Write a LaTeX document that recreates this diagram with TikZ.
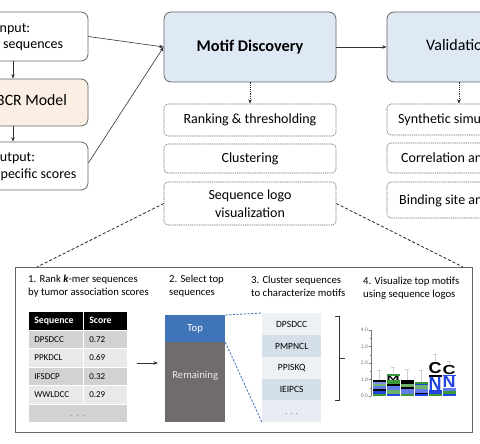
\documentclass[tikz,border=0pt]{standalone}
\usepackage{fontspec}
\setmainfont{Carlito}
\setsansfont{Liberation Sans}
\usepackage{graphicx}
\usetikzlibrary{arrows.meta}
\definecolor{boxblue}{HTML}{DFE8F5}
\definecolor{peach}{HTML}{FBEEE3}
\definecolor{bord}{HTML}{666666}
\definecolor{topblue}{HTML}{3F74B9}
\definecolor{remgray}{HTML}{6F6C6B}
\definecolor{rowdark}{HTML}{D2D2D2}
\definecolor{rowlight}{HTML}{E9E9E9}
\definecolor{lstdark}{HTML}{D5DFEA}
\definecolor{lstlight}{HTML}{EDF1F6}
\definecolor{dashblue}{HTML}{3D6DB0}
\definecolor{lgreen}{HTML}{3A9A3A}
\definecolor{lblue}{HTML}{2244E0}
\definecolor{axisgray}{HTML}{777777}
\newcommand{\logoB}[4]{\fill[#4] ({372.5+14*#1},{396-16.5*#2}) rectangle ({385.5+14*#1},{396-16.5*#3});}
\newcommand{\logoL}[6]{\node[inner sep=0pt, anchor=south west] (#1) at ({372.5+14*#2},{396-16.5*#3}) {\resizebox{13pt}{\dimexpr(#4pt-#3pt)*33/2\relax}{\color{#5}\sffamily\bfseries #6}};}
\begin{document}
\begin{tikzpicture}[x=1pt,y=-1pt,
 mainbox/.style={draw=bord, line width=0.8pt, rounded corners=7pt},
 subbox/.style={draw=bord, line width=0.6pt, dash pattern=on 1.3pt off 0.9pt, rounded corners=4pt, fill=white, minimum width=172pt, align=center, font=\fontsize{14}{18}\selectfont, inner sep=0pt},
 arr/.style={draw=black!80, line width=0.6pt, -{Stealth[length=4.5pt,width=3.5pt]}},
 darr/.style={arr, dash pattern=on 1.3pt off 0.9pt},
 zoomline/.style={draw=black!85, line width=0.8pt, dash pattern=on 3pt off 2pt},
 txt/.style={inner sep=0pt, anchor=west, font=\fontsize{14}{16.5}\selectfont, text height=9.5pt, text depth=2.8pt},
 ptitle/.style={inner sep=0pt, anchor=west, align=left, font=\fontsize{10.7}{13}\selectfont},
 cell/.style={minimum height=18.5pt, inner ysep=0pt, draw=white, line width=0.7pt, font=\fontsize{9}{10}\selectfont, anchor=north west, text height=6.2pt, text depth=0pt, inner xsep=6pt, align=left},
 cellA/.style={cell, text width=43pt},
 cellB/.style={cell, text width=32pt},
 hdr/.style={fill=black, text=white, font=\fontsize{9.8}{11}\selectfont\bfseries},
 lst/.style={minimum width=59pt, minimum height=21.8pt, inner sep=0pt, anchor=north west, font=\fontsize{9.5}{10}\selectfont, text height=6.5pt, text depth=0pt}
]
\useasboundingbox (0,0) rectangle (480,444);
\clip (0,0) rectangle (480,444);
\fill[white] (0,0) rectangle (480,444);

% left column
\node[mainbox, fill=white, minimum width=150pt, minimum height=49pt] (input) at (13,36.5) {};
\node[mainbox, fill=peach, minimum width=150pt, minimum height=47pt] (bcr) at (13,102.5) {};
\node[mainbox, fill=white, minimum width=150pt, minimum height=48pt] (output) at (13,166) {};
\node[txt] (tIn1) at (-4,29) {Input:};
\node[txt] (tIn2) at (3,45) {sequences};
\node[txt, font=\fontsize{15.8}{18}\selectfont] (tBCR) at (-4,102) {BCR Model};
\node[txt] (tOut1) at (-9.5,158) {Output:};
\node[txt] (tOut2) at (-5,175) {specific scores};
\draw[arr] (input.south) -- (bcr.north);
\draw[arr] (bcr.south) -- (output.north);

% main boxes
\node[mainbox, fill=boxblue, minimum width=172pt, minimum height=70pt, font=\fontsize{16.3}{19}\selectfont\bfseries] (motif) at (250,47) {Motif Discovery};
\node[mainbox, fill=boxblue, minimum width=172pt, minimum height=70pt] (valid) at (473,47) {};
\node[txt, font=\fontsize{16}{19}\selectfont] (tValid) at (426,47) {Validation};
\draw[arr] (input.east) -- (motif.west);
\draw[arr] ([yshift=3pt]output.east) -- (motif.west);
\draw[arr] (motif.east) -- (valid.west);

% motif sub-boxes
\node[subbox, minimum height=32pt] (rank) at (250,120) {Ranking \& thresholding};
\node[subbox, minimum height=29pt] (clust) at (250,158.5) {Clustering};
\node[subbox, minimum height=43pt] (logo) at (250,203.5) {Sequence logo\\visualization};
\draw[darr] (motif.south) -- (rank.north);

% validation sub-boxes
\node[subbox, minimum height=31pt] (synth) at (473,119.5) {};
\node[subbox, minimum height=30pt] (corr) at (473,158) {};
\node[subbox, minimum height=36pt] (bind) at (473,200) {};
\node[txt] (tSynth) at (398,120) {Synthetic simulation};
\node[txt] (tCorr) at (401,159) {Correlation analysis};
\node[txt] (tBind) at (399,201) {Binding site analysis};
\draw[darr] ([xshift=-14pt]valid.south) -- ([xshift=-14pt]synth.north);

% bottom panel
\node[draw=bord, line width=0.8pt, minimum width=457pt, minimum height=165pt, anchor=north west, inner sep=0pt] (panel) at (15,267) {};
\coordinate (pTL) at (37,267);
\coordinate (pTR) at (463,267);
\draw[zoomline] (logo.west) -- (pTL);
\draw[zoomline] (logo.east) -- (pTR);

\node[ptitle] (s1) at (28,286.5) {1. Rank \textbf{\textit{k}}-mer sequences\\by tumor association scores};
\node[ptitle] (s2) at (169,286.5) {2. Select top\\sequences};
\node[ptitle] (s3) at (251,286.5) {3. Cluster sequences\\to characterize motifs};
\node[ptitle] (s4) at (363,288) {4. Visualize top motifs\\using sequence logos};

% table
\node[cellA, hdr] (h1) at (28,311) {Sequence};
\node[cellB, hdr] (h2) at (83,311) {Score};
\node[cellA, fill=rowdark] (r1a) at (28,329.5) {DPSDCC};
\node[cellB, fill=rowdark] (r1b) at (83,329.5) {0.72};
\node[cellA, fill=rowlight] (r2a) at (28,348) {PPKDCL};
\node[cellB, fill=rowlight] (r2b) at (83,348) {0.69};
\node[cellA, fill=rowdark] (r3a) at (28,366.5) {IFSDCP};
\node[cellB, fill=rowdark] (r3b) at (83,366.5) {0.32};
\node[cellA, fill=rowlight] (r4a) at (28,385) {WWLDCC};
\node[cellB, fill=rowlight] (r4b) at (83,385) {0.29};
\node[cell, fill=rowdark, text width=87pt, align=center, text=black!50] (r5) at (28,403.5) {. . .};

% select bar
\node[fill=topblue, minimum width=60pt, minimum height=27pt, anchor=north west, inner sep=0pt, text=white, font=\fontsize{10.7}{12}\selectfont] (top) at (165,315) {Top};
\node[fill=remgray, minimum width=60pt, minimum height=80pt, anchor=north west, inner sep=0pt, text=white!92!black, font=\fontsize{10.7}{12}\selectfont, text height=7pt, text depth=2pt] (rem) at (165,342) {\raisebox{6pt}{Remaining}};
\coordinate (tblE) at (137,363);
\coordinate (barW) at (158,363);
\draw[arr] (tblE) -- (barW);

% cluster list
\node[lst, fill=lstlight] (l1) at (262,313) {DPSDCC};
\node[lst, fill=lstdark] (l2) at (262,334.8) {PMPNCL};
\node[lst, fill=lstlight] (l3) at (262,356.6) {PPISKQ};
\node[lst, fill=lstdark] (l4) at (262,378.4) {IEIPCS};
\node[lst, fill=lstlight!80!lstdark, text=black!50] (l5) at (262,400.2) {. . .};
\draw[dashblue, line width=0.8pt, dash pattern=on 2.2pt off 1.5pt] (top.north east) -- (l1.north west);
\draw[dashblue, line width=0.8pt, dash pattern=on 2.2pt off 1.5pt] (top.south east) -- (l5.south west);

% bracket
\draw[black!80, line width=0.7pt] (335,316) -- (339.5,316) -- (339.5,400) -- (335,400);
\draw[black!80, line width=0.7pt] (339.5,358) -- (345,358);

% sequence logo
\foreach \c/\b/\t in {0/1.0/1.55,1/1.35/1.75,2/1.0/1.6,3/0.85/1.55,4/2.0/2.55,5/1.82/2.1} {
  \draw[black!18, line width=0.5pt] ({379+14*\c},{396-16.5*\b}) -- ({379+14*\c},{396-16.5*\t}) ++(-2,0) -- ++(4,0);
}
\logoB{0}{0}{.1}{lgreen}\logoB{0}{.1}{.3}{lblue}\logoB{0}{.3}{.4}{black}\logoB{0}{.4}{.6}{lblue!70}\logoB{0}{.6}{.75}{lgreen!70}\logoB{0}{.75}{.85}{lblue!60}\logoB{0}{.85}{1.0}{black}
\logoB{1}{0}{.15}{lblue}\logoB{1}{.15}{.35}{lgreen!75}\logoB{1}{.35}{.6}{lblue!70}\logoB{1}{.6}{.7}{black}\logoB{1}{.7}{.95}{lgreen}\logoB{1}{1.2}{1.35}{lgreen}
\logoL{lgM}{1}{.95}{1.2}{black}{M}
\logoB{2}{0}{.1}{lgreen}\logoB{2}{.1}{.4}{lblue!70}\logoB{2}{.4}{.55}{black}\logoB{2}{.55}{.75}{lgreen!75}\logoB{2}{.75}{1.0}{black}
\logoB{3}{0}{.1}{lblue}\logoB{3}{.1}{.2}{black}\logoB{3}{.2}{.45}{lblue!70}\logoB{3}{.45}{.65}{lgreen!75}\logoB{3}{.65}{.75}{lblue}\logoB{3}{.75}{.85}{lgreen}
\logoB{4}{0}{.1}{lgreen}\logoB{4}{.1}{.35}{lblue}\logoB{4}{1.15}{1.28}{black}
\logoL{lgN1}{4}{.35}{1.15}{lblue}{N}
\logoL{lgC1}{4}{1.33}{2.0}{black}{C}
\logoB{5}{0}{.15}{lblue}\logoB{5}{.15}{.3}{lgreen}\logoB{5}{.3}{.5}{lblue!70}\logoB{5}{1.2}{1.27}{lblue}
\logoL{lgN2}{5}{.5}{1.2}{lblue}{N}
\logoL{lgC2}{5}{1.27}{1.82}{black}{C}
\draw[axisgray, line width=0.5pt] (371,330) -- (371,396);
\foreach \v/\lab in {0/0.0,1/1.0,2/2.0,3/3.0,4/4.0} {
  \draw[axisgray, line width=0.5pt] (368.5,{396-16.5*\v}) -- (371,{396-16.5*\v});
  \node[anchor=east, inner sep=0pt, font=\fontsize{5.5}{6}\selectfont, text=axisgray] (yl\v) at (368,{396-16.5*\v}) {\lab};
}
\foreach \v in {0.5,1.5,2.5,3.5} {
  \draw[axisgray, line width=0.4pt] (369.5,{396-16.5*\v}) -- (371,{396-16.5*\v});
}
\end{tikzpicture}
\end{document}
